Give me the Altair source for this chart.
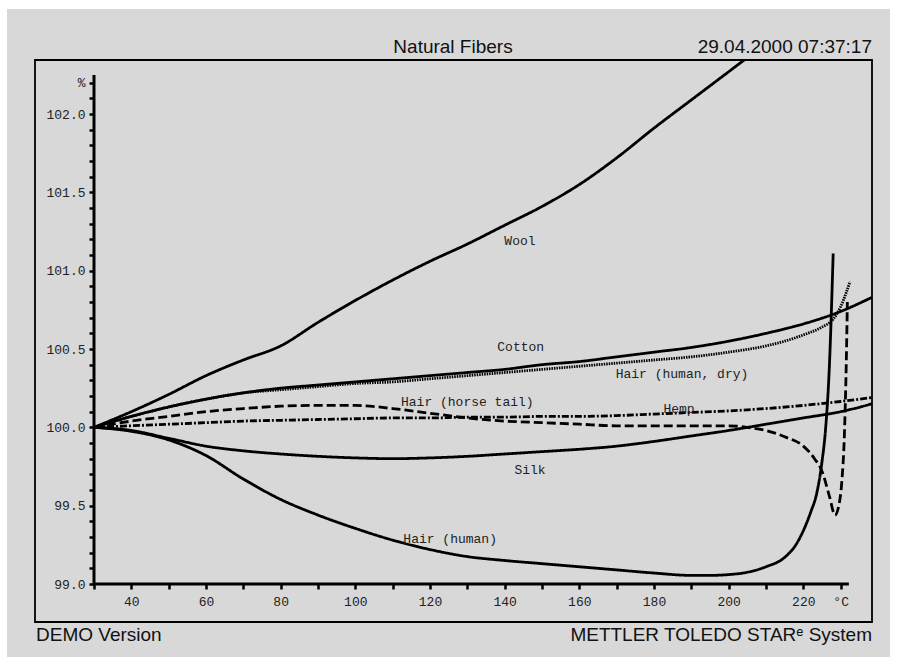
import altair as alt
import pandas as pd

# ---------------- data ----------------
wool_x = [30, 40, 50, 60, 70, 80, 90, 100, 110, 120, 130, 140, 150, 160, 170, 180, 190, 200, 210]
wool_y = [100.0, 100.10, 100.21, 100.33, 100.43, 100.52, 100.67, 100.81, 100.94, 101.06, 101.17,
          101.29, 101.41, 101.55, 101.72, 101.91, 102.09, 102.27, 102.45]

cotton_x = [30, 40, 50, 60, 70, 80, 90, 100, 110, 120, 130, 140, 150, 160, 170, 180, 190, 200, 210, 220, 230, 238.4]
cotton_y = [100.0, 100.07, 100.13, 100.18, 100.22, 100.25, 100.27, 100.29, 100.31, 100.33, 100.35,
            100.37, 100.40, 100.42, 100.45, 100.48, 100.51, 100.55, 100.60, 100.66, 100.74, 100.83]

hdry_x = [30, 40, 50, 60, 70, 80, 90, 100, 110, 120, 130, 140, 150, 160, 170, 180, 190, 200, 210, 215,
          220, 225, 228, 230, 231.5, 232.5]
hdry_y = [100.0, 100.07, 100.13, 100.18, 100.22, 100.24, 100.26, 100.28, 100.29, 100.31, 100.33,
          100.35, 100.37, 100.39, 100.41, 100.43, 100.45, 100.48, 100.52, 100.55, 100.59, 100.64,
          100.69, 100.77, 100.86, 100.93]

horse_x = [30, 40, 50, 60, 70, 80, 90, 100, 110, 120, 130, 140, 150, 160, 170, 180, 190, 200, 205,
           210, 215, 220, 223, 225, 227, 228.5, 229.5, 230.3, 231, 231.5, 231.8]
horse_y = [100.0, 100.04, 100.07, 100.10, 100.12, 100.135, 100.14, 100.14, 100.12, 100.09, 100.06,
           100.04, 100.03, 100.02, 100.01, 100.01, 100.01, 100.01, 100.0, 99.98, 99.94, 99.88, 99.80,
           99.72, 99.56, 99.44, 99.50, 99.65, 99.95, 100.40, 100.80]

hemp_x = [30, 40, 50, 60, 70, 80, 90, 100, 110, 120, 130, 140, 150, 160, 170, 180, 190, 200, 210, 220, 230, 238.4]
hemp_y = [100.0, 100.01, 100.02, 100.03, 100.04, 100.045, 100.05, 100.055, 100.06, 100.06, 100.065,
          100.065, 100.07, 100.07, 100.075, 100.085, 100.095, 100.105, 100.12, 100.14, 100.165, 100.19]

silk_x = [30, 40, 50, 60, 70, 80, 90, 100, 110, 120, 130, 140, 150, 160, 170, 180, 190, 200, 210, 220, 230, 238.4]
silk_y = [100.0, 99.98, 99.93, 99.88, 99.85, 99.83, 99.815, 99.805, 99.80, 99.805, 99.815, 99.83,
          99.845, 99.86, 99.88, 99.91, 99.945, 99.98, 100.02, 100.06, 100.10, 100.15]

hhum_x = [30, 40, 50, 60, 70, 80, 90, 100, 110, 120, 130, 140, 150, 160, 170, 180, 190, 195, 200, 205,
          210, 215, 218, 220, 222, 223.6, 225, 226, 227, 228]
hhum_y = [100.0, 99.975, 99.92, 99.82, 99.67, 99.54, 99.44, 99.355, 99.28, 99.22, 99.175, 99.15, 99.13,
          99.11, 99.09, 99.07, 99.055, 99.055, 99.06, 99.075, 99.11, 99.17, 99.25, 99.34, 99.46, 99.58,
          99.78, 100.00, 100.40, 101.11]

series_names = ["Wool", "Cotton", "Hair (human, dry)", "Hair (horse tail)", "Hemp", "Silk", "Hair (human)"]
series_x = [wool_x, cotton_x, hdry_x, horse_x, hemp_x, silk_x, hhum_x]
series_y = [wool_y, cotton_y, hdry_y, horse_y, hemp_y, silk_y, hhum_y]

label_text = ["Wool", "Cotton", "Hair (human, dry)", "Hair (horse tail)", "Hemp", "Silk", "Hair (human)"]
label_x = [144.1, 144.3, 187.5, 130.0, 186.7, 146.8, 125.4]
label_y = [101.19, 100.51, 100.34, 100.16, 100.12, 99.73, 99.29]

x_ticks = list(range(30, 231, 10))
y_ticks = [round(99.0 + 0.1 * i, 1) for i in range(33)]

X_DOMAIN = [30, 238.4]
Y_DOMAIN = [99.0, 102.345]
X_AXIS_END = 232.2
Y_AXIS_TOP = 102.25

title_text = "Natural Fibers"
date_text = "29.04.2000 07:37:17"
footer_left = "DEMO Version"
footer_right = "METTLER  TOLEDO  STAR\u1d49 System"

# ---------------- tables ----------------
rows = []
for name, xs, ys in zip(series_names, series_x, series_y):
    for a, b in zip(xs, ys):
        rows.append({"series": name, "t": a, "v": b})
df = pd.DataFrame(rows)
labels = pd.DataFrame({"text": label_text, "t": label_x, "v": label_y})

W, H = 778, 524
MONO = "Liberation Mono"
SANS = "Liberation Sans"
BG = "#d8d8d8"
INK = "#111111"

xscale = alt.Scale(domain=X_DOMAIN, nice=False, zero=False)
yscale = alt.Scale(domain=Y_DOMAIN, nice=False, zero=False)

xaxis = alt.Axis(values=x_ticks, tickCount=200, title=None, domain=False, grid=False, tickSize=5, tickWidth=2.5,
                 tickColor="black", labelFont=MONO, labelFontSize=13, labelColor="#222",
                 labelBaseline="middle", labelPadding=12, labelOverlap=False, labelFlush=False,
                 labelBound=False, zindex=1,
                 labelExpr="datum.value == 230 ? '°C' : ((datum.value % 20 == 0 && datum.value >= 40) ? format(datum.value, 'd') : '')")
yaxis = alt.Axis(values=y_ticks, tickCount=200, title=None, domain=False, grid=False, tickSize=5, tickWidth=2.5,
                 tickColor="black", labelFont=MONO, labelFontSize=13, labelColor="#222",
                 labelBaseline="middle", labelPadding=4, labelOverlap=False, labelBound=False, zindex=1,
                 labelExpr="datum.value > 102.15 ? '%' : (abs(datum.value * 2 - round(datum.value * 2)) < 0.01 ? format(datum.value, '.1f') : '')")

base = alt.Chart(df)

bg = alt.Chart(pd.DataFrame({"k": [0]})).mark_rect(color=BG).encode(
    x=alt.value(-87), x2=alt.value(796), y=alt.value(-51), y2=alt.value(597))
frame = alt.Chart(pd.DataFrame({"k": [0]})).mark_rect(fillOpacity=0, stroke="black", strokeWidth=1.8).encode(
    x=alt.value(-59), x2=alt.value(778), y=alt.value(0), y2=alt.value(562))

lines = base.mark_line(clip=True, color="black", strokeWidth=2.8, interpolate="monotone").encode(
    x=alt.X("t:Q", scale=xscale, axis=xaxis),
    y=alt.Y("v:Q", scale=yscale, axis=yaxis),
    detail="series:N",
    strokeDash=alt.StrokeDash("series:N", legend=None,
                              scale=alt.Scale(domain=series_names,
                                              range=[[1, 0], [1, 0], [1.5, 1], [9, 4], [7, 2, 2, 2], [1, 0], [1, 0]])),
)

texts = alt.Chart(labels).mark_text(font=MONO, fontSize=13, color="#222", align="center", baseline="middle").encode(
    x=alt.X("t:Q", scale=xscale), y=alt.Y("v:Q", scale=yscale), text="text:N")

xrule = alt.Chart(pd.DataFrame({"k": [0]})).mark_rule(color="black", strokeWidth=3).encode(
    x=alt.datum(X_DOMAIN[0]), x2=alt.datum(X_AXIS_END), y=alt.datum(Y_DOMAIN[0]))
yrule = alt.Chart(pd.DataFrame({"k": [0]})).mark_rule(color="black", strokeWidth=3).encode(
    x=alt.datum(X_DOMAIN[0]), y=alt.datum(Y_DOMAIN[0]), y2=alt.datum(Y_AXIS_TOP))

def ptext(txt, x, y, align):
    return alt.Chart(pd.DataFrame({"k": [0]})).mark_text(
        font=SANS, fontSize=19, color=INK, align=align, baseline="middle", text=txt).encode(
        x=alt.value(x), y=alt.value(y))

chart = alt.layer(
    bg, frame, lines, texts, xrule, yrule,
    ptext(title_text, 359, -13, "center"),
    ptext(date_text, 778, -13, "right"),
    ptext(footer_left, -58, 575, "left"),
    ptext(footer_right, 778, 575, "right"),
).properties(
    width=W, height=H,
    padding={"left": 94, "top": 60, "right": 25, "bottom": 82},
    autosize=alt.AutoSizeParams(type="none"),
    background="white",
).configure_view(strokeWidth=0)

chart.save("out.html", embed_options={"renderer": "svg", "actions": False})
